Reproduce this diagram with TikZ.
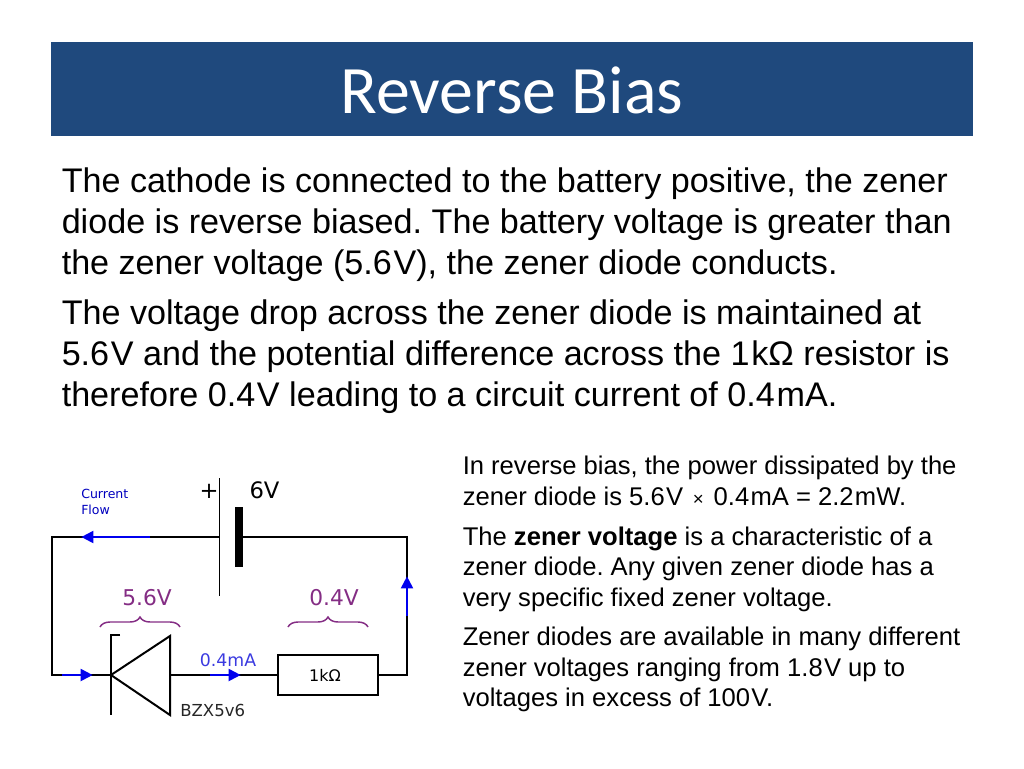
\documentclass[tikz,border=0pt]{standalone}
\usepackage{fontspec}
\setmainfont{Liberation Sans}
\newfontfamily\titlefont{Carlito}
\newfontfamily\circfont{DejaVu Sans}
\usetikzlibrary{arrows.meta,decorations.pathreplacing}
\definecolor{headblue}{HTML}{1F497D}
\definecolor{flowblue}{HTML}{0000EE}
\definecolor{labelblue}{HTML}{3A3AE0}
\definecolor{dropviolet}{HTML}{842D84}
\newcommand{\unitgap}{\kern0.05em}
\frenchspacing
\tikzset{
    wire/.style={line width=1.5pt},
    flow/.style={line width=1.5pt,flowblue,-{Triangle[length=9pt,width=9pt]},shorten >=-0.5pt},
    bodyline/.style={anchor=base west,inner sep=0pt,font=\fontsize{25.6}{30}\selectfont},
    smallline/.style={anchor=base west,inner sep=0pt,font=\fontsize{19.2}{23}\selectfont},
    circlabel/.style={inner sep=0pt,font=\circfont\fontsize{12}{14}\selectfont},
    biglabel/.style={inner sep=0pt,font=\circfont\fontsize{17}{20}\selectfont},
    flowlabel/.style={anchor=west,inner sep=0pt,flowblue!80!black,font=\circfont\fontsize{9.4}{11}\selectfont},
    drop/.style={dropviolet,line width=1.1pt,decorate,decoration={brace,amplitude=7.5pt}},
}
\begin{document}
\begin{tikzpicture}[x=0.75pt,y=-0.75pt]
        \useasboundingbox (0,0) rectangle (1024,768);

        % Title bar
        \node[fill=headblue,minimum width=691.5pt,minimum height=70.5pt,inner sep=0pt] (bar) at (512,89) {};
        \node[white,inner sep=0pt,font=\titlefont\fontsize{50.9}{54}\selectfont] (title) at (512,90) {Reverse Bias};

        % Main text
        \foreach \x/\y/\val in {
            61.5/192/{The cathode is connected to the battery positive, the zener},
            61.5/233/{diode is reverse biased. The battery voltage is greater than},
            61.5/274/{the zener voltage (5.6\unitgap V), the zener diode conducts.},
            61.5/324/{The voltage drop across the zener diode is maintained at},
            61.5/365/{5.6\unitgap V and the potential difference across the 1\unitgap kΩ resistor is},
            61.5/406/{therefore 0.4\unitgap V leading to a circuit current of 0.4\unitgap mA.}%
        } {
            \node[bodyline] (body\y) at (\x,\y) {\val};
        }

        % Side text
        \foreach \x/\y/\val in {
            462.5/474/{In reverse bias, the power dissipated by the},
            462.5/505/{zener diode is 5.6\unitgap V\kern2pt\ {\fontsize{14}{14}\selectfont ×}\kern2pt\ 0.4\unitgap mA = 2.2\unitgap mW.},
            462.5/545/{The \textbf{zener voltage} is a characteristic of a},
            462.5/575/{zener diode. Any given zener diode has a},
            462.5/606/{very specific fixed zener voltage.},
            462.5/645/{Zener diodes are available in many different},
            462.5/676/{zener voltages ranging from 1.8\unitgap V up to},
            462.5/706/{voltages in excess of 100\unitgap V.}%
        } {
            \node[smallline] (side\y) at (\x,\y) {\val};
        }

        % Circuit
        \coordinate (plusplate) at (219.5,537);
        \coordinate (minusplate) at (239,537);
        \coordinate (topleft) at (52,537);
        \coordinate (topright) at (407,537);
        \coordinate (botleft) at (52,675);
        \coordinate (botright) at (407,675);
        \coordinate (cathode) at (111,675);
        \coordinate (anode) at (170,675);
        \node[draw,wire,minimum width=75pt,minimum height=29.5pt,inner sep=0pt] (res) at (328,675) {};
        \node[circlabel] (reslabel) at (325,675) {1kΩ};

        \draw[wire] (plusplate) -- (topleft) -- (botleft) -- (cathode);
        \draw[wire] (minusplate) -- (topright) -- (botright) -- (res.east);
        \draw[wire] (anode) -- (res.west);

        % Battery plates
        \draw[line width=1.3pt] (219.5,478) -- (219.5,596);
        \fill (235,507) rectangle (243,567);

        % Diode
        \draw[wire,line join=miter] (120,635) -- (111,635) -- (111,715);
        \draw[wire,line join=miter] (cathode) -- (170,636) -- (170,715) -- cycle;

        % Current arrows
        \draw[flow] (150,537) -- (82,537);
        \draw[flow] (62,675) -- (92,675);
        \draw[flow] (210,675) -- (240,675);
        \draw[flow] (407,616) -- (407,577);

        % Labels
        \node[flowlabel] (current) at (81,493.5) {Current};
        \node[flowlabel] (flowword) at (81,509.5) {Flow};
        \node[biglabel] (volts) at (264.5,490) {6V};
        \node[biglabel] (plus) at (209,491) {+};
        \node[biglabel,dropviolet,font=\circfont\fontsize{16.3}{20}\selectfont] (dropz) at (147,598) {5.6V};
        \node[biglabel,dropviolet,font=\circfont\fontsize{16.3}{20}\selectfont] (dropr) at (334,598) {0.4V};
        \node[circlabel,labelblue,font=\circfont\fontsize{13}{15}\selectfont] (amps) at (228,660.5) {0.4mA};
        \node[circlabel,anchor=west,black!85,font=\circfont\fontsize{12.4}{15}\selectfont] (part) at (180,710) {BZX5v6};

        % Braces
        \coordinate (bracea) at (100,627);
        \coordinate (braceb) at (180,627);
        \coordinate (bracec) at (288,627);
        \coordinate (braced) at (368,627);
        \draw[drop] (bracea) -- (braceb);
        \draw[drop] (bracec) -- (braced);
\end{tikzpicture}
\end{document}
